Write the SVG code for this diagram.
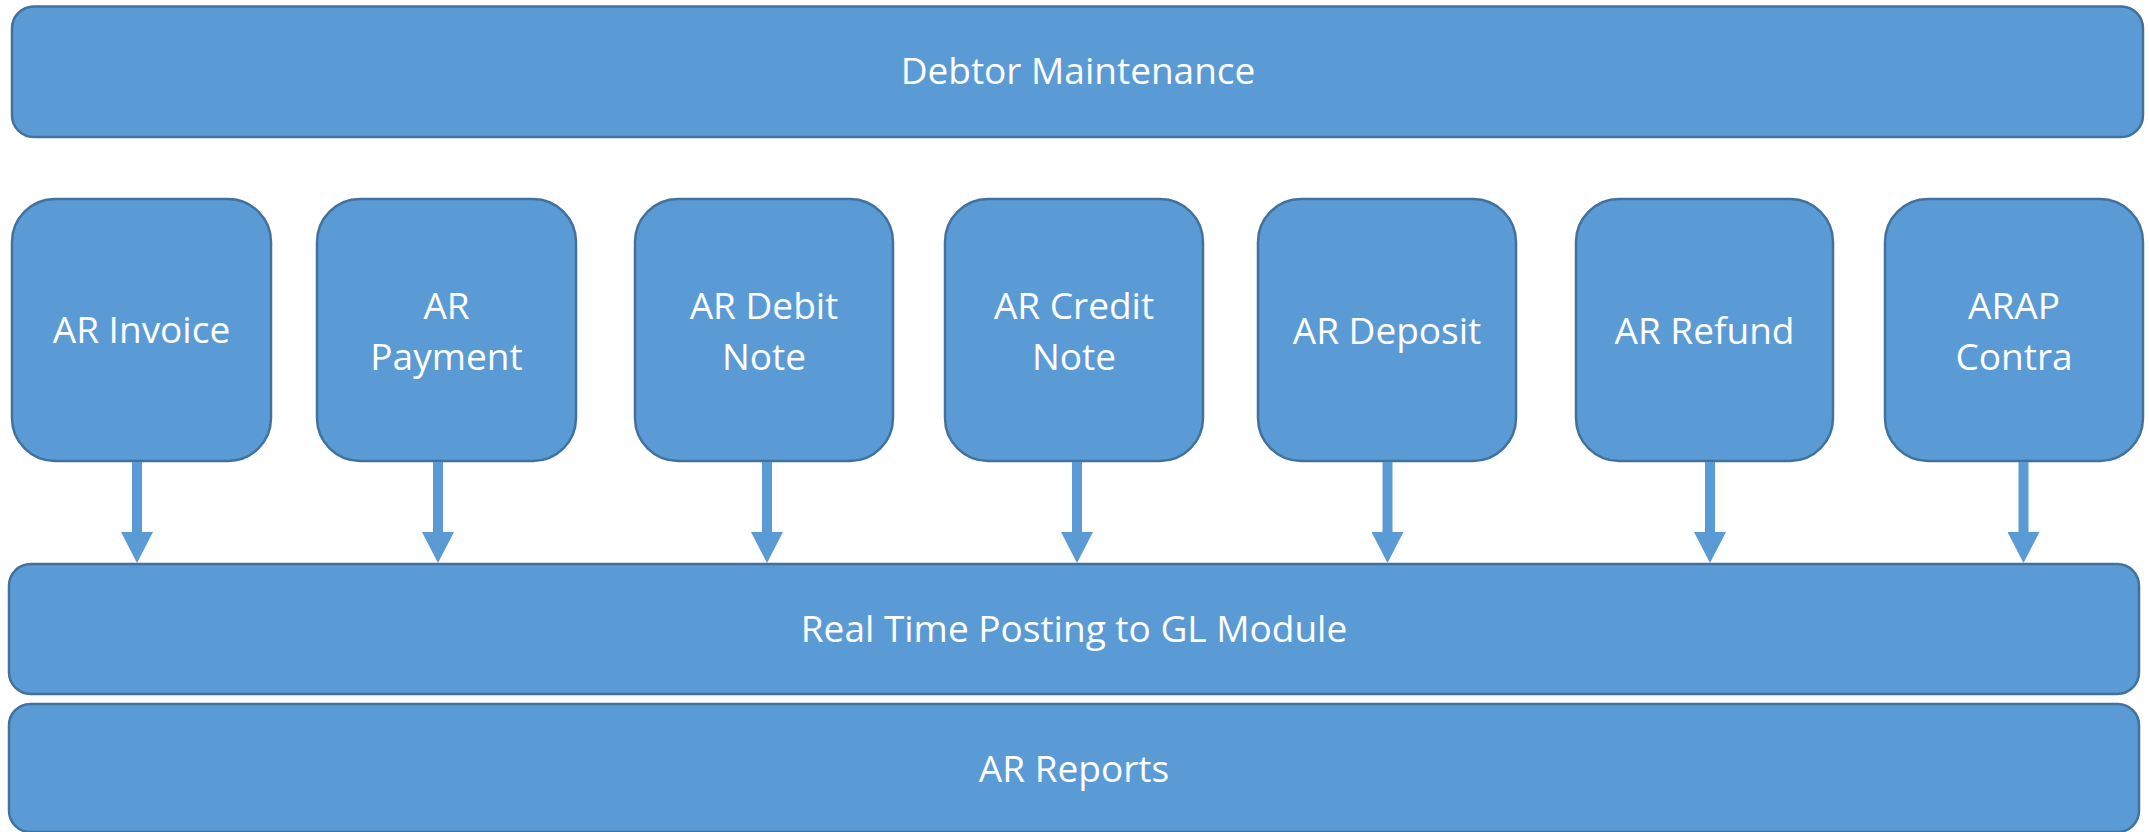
<svg xmlns="http://www.w3.org/2000/svg" width="2149" height="832" viewBox="0 0 2149 832">
  <style>
    .box { fill: #5B9BD5; stroke: #41719C; stroke-width: 2.5; }
    .lbl { fill: #FFFFFF; font-family: "Open Sans", "Liberation Sans", sans-serif; font-size: 37px; text-anchor: middle; }
    .conn { stroke: #5B9BD5; stroke-width: 10; fill: none; }
  </style>
  <defs>
    <marker id="head" viewBox="0 0 31 32" markerUnits="userSpaceOnUse" markerWidth="31" markerHeight="32" refX="0" refY="16" orient="auto">
      <path d="M0,0 L31,16 L0,32 Z" fill="#5B9BD5"/>
    </marker>
  </defs>
  <rect width="2149" height="832" fill="#FFFFFF"/>

  <g id="debtor-maintenance">
    <rect class="box" x="12" y="6.5" width="2131" height="130.5" rx="21.75" ry="21.75"/>
    <text class="lbl" x="1078" y="84">Debtor Maintenance</text>
  </g>

  <g id="ar-invoice">
    <rect class="box" x="12" y="199" width="259" height="262" rx="43" ry="43"/>
    <text class="lbl" x="141.5" y="343">AR Invoice</text>
  </g>
  <g id="ar-payment">
    <rect class="box" x="317" y="199" width="259" height="262" rx="43" ry="43"/>
    <text class="lbl" x="446.5" y="319">AR</text>
    <text class="lbl" x="446.5" y="370">Payment</text>
  </g>
  <g id="ar-debit-note">
    <rect class="box" x="635" y="199" width="258" height="262" rx="43" ry="43"/>
    <text class="lbl" x="764" y="319">AR Debit</text>
    <text class="lbl" x="764" y="370">Note</text>
  </g>
  <g id="ar-credit-note">
    <rect class="box" x="945" y="199" width="258" height="262" rx="43" ry="43"/>
    <text class="lbl" x="1074" y="319">AR Credit</text>
    <text class="lbl" x="1074" y="370">Note</text>
  </g>
  <g id="ar-deposit">
    <rect class="box" x="1258" y="199" width="258" height="262" rx="43" ry="43"/>
    <text class="lbl" x="1387" y="344">AR Deposit</text>
  </g>
  <g id="ar-refund">
    <rect class="box" x="1576" y="199" width="257" height="262" rx="43" ry="43"/>
    <text class="lbl" x="1704.5" y="344">AR Refund</text>
  </g>
  <g id="arap-contra">
    <rect class="box" x="1885" y="199" width="258" height="262" rx="43" ry="43"/>
    <text class="lbl" x="2014" y="319">ARAP</text>
    <text class="lbl" x="2014" y="370">Contra</text>
  </g>

  <g id="real-time-posting">
    <rect class="box" x="9" y="564" width="2130" height="130" rx="21.7" ry="21.7"/>
    <text class="lbl" x="1074" y="642">Real Time Posting to GL Module</text>
  </g>
  <g id="ar-reports">
    <rect class="box" x="9" y="704" width="2130" height="128" rx="21.3" ry="21.3"/>
    <text class="lbl" x="1074" y="782">AR Reports</text>
  </g>

  <g id="connectors">
    <line class="conn" x1="137" y1="462" x2="137" y2="532" marker-end="url(#head)"/>
    <line class="conn" x1="438" y1="462" x2="438" y2="532" marker-end="url(#head)"/>
    <line class="conn" x1="767" y1="462" x2="767" y2="532" marker-end="url(#head)"/>
    <line class="conn" x1="1077" y1="462" x2="1077" y2="532" marker-end="url(#head)"/>
    <line class="conn" x1="1387.5" y1="462" x2="1387.5" y2="532" marker-end="url(#head)"/>
    <line class="conn" x1="1710" y1="462" x2="1710" y2="532" marker-end="url(#head)"/>
    <line class="conn" x1="2023.5" y1="462" x2="2023.5" y2="532" marker-end="url(#head)"/>
  </g>
</svg>
